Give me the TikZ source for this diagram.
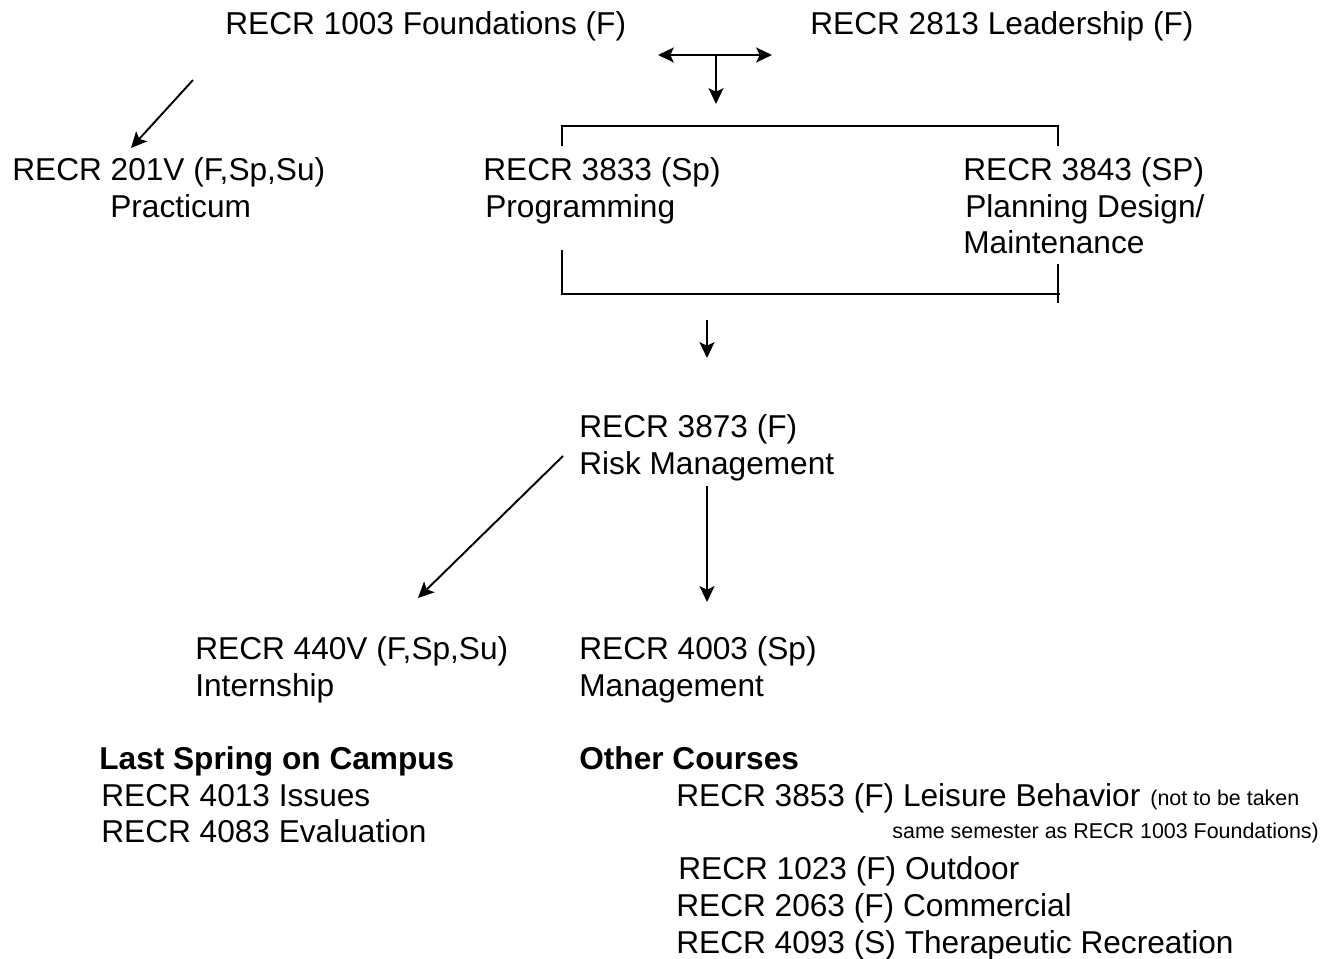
\documentclass[tikz,border=0pt]{standalone}
\usepackage{fontspec}
\setmainfont{Liberation Sans}
\usetikzlibrary{arrows.meta}

\begin{document}
\begin{tikzpicture}[x=0.02cm,y=-0.02cm]
	
	\tikzset{course/.style = {anchor=base west,inner sep=0pt,font=\fontsize{18}{21}\selectfont}}
	\tikzset{head/.style = {anchor=base west,inner sep=0pt,font=\fontsize{18}{21}\selectfont\bfseries}}
	\tikzset{note/.style = {anchor=base west,inner sep=0pt,font=\fontsize{12.2}{14}\selectfont}}
	\tikzset{edge/.style = {->,> = {Stealth[length=9pt,width=8.5pt,inset=2pt]},line width=1.1pt}}
	\tikzset{bracket/.style = {line width=1.1pt}}
	\useasboundingbox (0,0) rectangle (1321,959);
	% courses
	\node[course] (1003) at (225,35) {RECR 1003 Foundations (F)};
	\node[course] (2813) at (810,35) {RECR 2813 Leadership (F)};
	\node[course] (201V) at (12,181) {RECR 201V (F,Sp,Su)};
	\node[course] (prac) at (110,218) {Practicum};
	\node[course] (3833) at (483,181) {RECR 3833 (Sp)};
	\node[course] (prog) at (485,218) {Programming};
	\node[course] (3843) at (963,181) {RECR 3843 (SP)};
	\node[course] (plan) at (965,218) {Planning Design/};
	\node[course] (maint) at (963,254) {Maintenance};
	\node[course] (3873) at (579,437) {RECR 3873 (F)};
	\node[course] (risk) at (579,474) {Risk Management};
	\node[course] (440V) at (195,659) {RECR 440V (F,Sp,Su)};
	\node[course] (intern) at (195,696) {Internship};
	\node[course] (4003) at (579,659) {RECR 4003 (Sp)};
	\node[course] (mgmt) at (579,696) {Management};
	% lists
	\node[head] (last) at (99,769) {Last Spring on Campus};
	\node[course] (4013) at (101,806) {RECR 4013 Issues};
	\node[course] (4083) at (101,842) {RECR 4083 Evaluation};
	\node[head] (other) at (579,769) {Other Courses};
	\node[course] (3853) at (676,806) {RECR 3853 (F) Leisure Behavior};
	\node[note] (note1) at (1150,805) {(not to be taken};
	\node[note] (note2) at (892,838) {same semester as RECR 1003 Foundations)};
	\node[course] (1023) at (678,879) {RECR 1023 (F) Outdoor};
	\node[course] (2063) at (676,916) {RECR 2063 (F) Commercial};
	\node[course] (4093) at (676,953) {RECR 4093 (S) Therapeutic Recreation};
	% loose ends
	\coordinate (a1) at (193,80);
	\coordinate (a2) at (131,148);
	\coordinate (hl) at (658,55);
	\coordinate (hr) at (772,55);
	\coordinate (hm) at (716,55);
	\coordinate (hd) at (716,104);
	\coordinate (t1) at (562,146);
	\coordinate (t2) at (562,126);
	\coordinate (t3) at (1058,126);
	\coordinate (t4) at (1058,146);
	\coordinate (b1) at (562,250);
	\coordinate (b2) at (562,294);
	\coordinate (b3) at (1060,294);
	\coordinate (b4) at (1058,264);
	\coordinate (b5) at (1058,303);
	\coordinate (d1) at (707,320);
	\coordinate (d2) at (707,358);
	\coordinate (s1) at (563,456);
	\coordinate (s2) at (418,598);
	\coordinate (v1) at (707,486);
	\coordinate (v2) at (707,602);
	%edges
	\draw[edge] (a1) -- (a2);
	\draw[edge,<->] (hl) -- (hr);
	\draw[edge] (hm) -- (hd);
	\draw[bracket] (t1) -- (t2) -- (t3) -- (t4);
	\draw[bracket] (b1) -- (b2) -- (b3);
	\draw[bracket] (b4) -- (b5);
	\draw[edge] (d1) -- (d2);
	\draw[edge] (s1) -- (s2);
	\draw[edge] (v1) -- (v2);
\end{tikzpicture}
\end{document}
